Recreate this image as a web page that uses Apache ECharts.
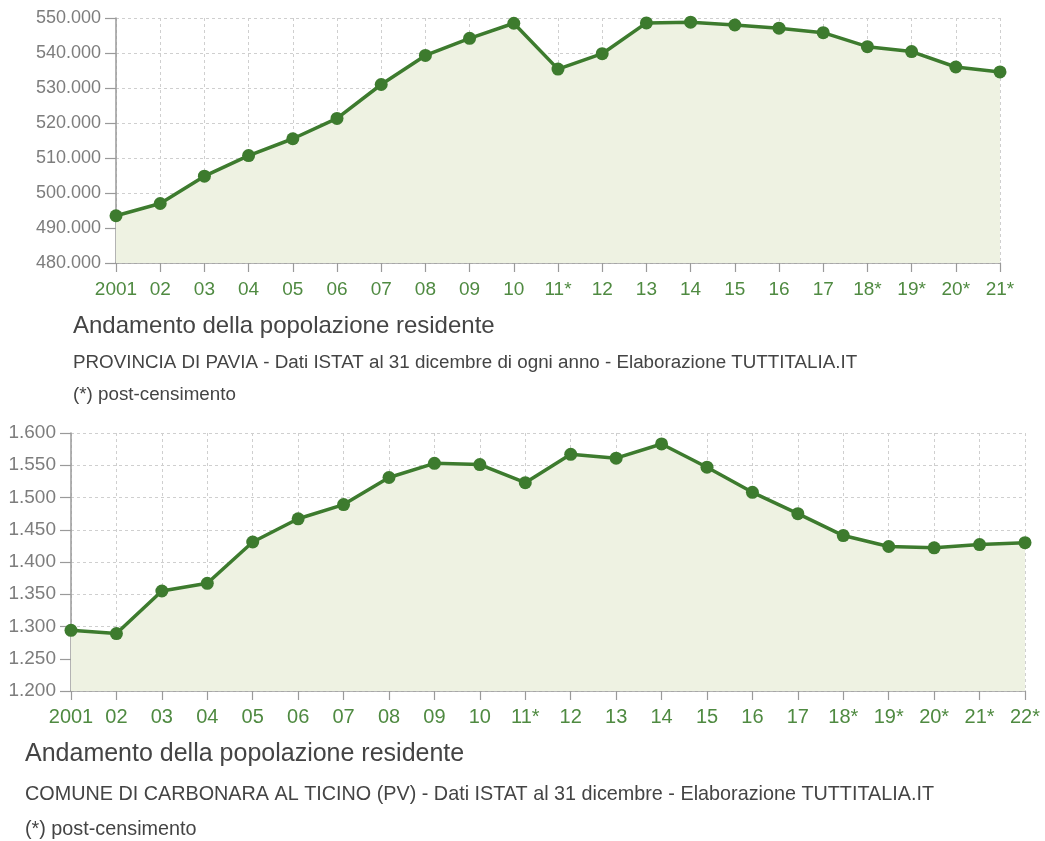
<!DOCTYPE html>
<html>
<head>
<meta charset="utf-8">
<script src="https://cdn.jsdelivr.net/npm/echarts@6/dist/echarts.min.js"></script>
<style>
  html, body { margin: 0; padding: 0; background: #ffffff; }
  #chart { width: 1045px; height: 841px; }
</style>
</head>
<body>
<div id="chart"></div>
<script>
// Resident population, Province of Pavia (31 December of each year)
const provYears = ['2001', '02', '03', '04', '05', '06', '07', '08', '09', '10',
  '11*', '12', '13', '14', '15', '16', '17', '18*', '19*', '20*', '21*'];
const provPop = [493500, 497000, 504800, 510700, 515500, 521300, 531000, 539300,
  544200, 548500, 535400, 539800, 548600, 548800, 548000, 547100, 545800,
  541800, 540400, 536000, 534600];

// Resident population, Comune di Carbonara al Ticino
const comYears = ['2001', '02', '03', '04', '05', '06', '07', '08', '09', '10',
  '11*', '12', '13', '14', '15', '16', '17', '18*', '19*', '20*', '21*', '22*'];
const comPop = [1294, 1289, 1355, 1367, 1431, 1467, 1489, 1531, 1553, 1551,
  1523, 1567, 1561, 1583, 1547, 1508, 1475, 1441, 1424, 1422, 1427, 1430];

const provTicks = { min: 480000, max: 550000, step: 10000 };
const comTicks = { min: 1200, max: 1600, step: 50 };

const titleMain = 'Andamento della popolazione residente';
const provSub = 'PROVINCIA DI PAVIA - Dati ISTAT al 31 dicembre di ogni anno - Elaborazione TUTTITALIA.IT';
const comSub = 'COMUNE DI CARBONARA AL TICINO (PV) - Dati ISTAT al 31 dicembre - Elaborazione TUTTITALIA.IT';
const note = '(*) post-censimento';

const FONT = '"Liberation Sans", Arial, Helvetica, sans-serif';
const LINE = '#3d7b2e';
const FILL = '#eef2e2';
const XLAB = '#4f8a41';
const YLAB = '#7d7d7d';
const AXIS = '#9a9a9a';
const GRID = '#cfcfcf';

const fmt = v => String(Math.round(v)).replace(/\B(?=(\d{3})+(?!\d))/g, '.');

function xAxis(gridIndex, data, size, margin) {
  return {
    type: 'category', gridIndex, data, boundaryGap: false,
    axisLine: { lineStyle: { color: AXIS, width: 1.5 } },
    axisTick: { show: true, interval: 0, length: 9, lineStyle: { color: AXIS, width: 1.2 } },
    axisLabel: { interval: 0, color: XLAB, fontFamily: FONT, fontSize: size, margin },
    splitLine: { show: true, interval: 0, lineStyle: { color: GRID, type: [3, 3], width: 1 } }
  };
}

function yAxis(gridIndex, t, size) {
  return {
    type: 'value', gridIndex, min: t.min, max: t.max, interval: t.step,
    axisLine: { show: true, lineStyle: { color: AXIS, width: 1.5 } },
    axisTick: { show: true, length: 11, lineStyle: { color: AXIS, width: 1.2 } },
    axisLabel: { color: YLAB, fontFamily: FONT, fontSize: size, margin: 15, formatter: fmt },
    splitLine: { show: true, lineStyle: { color: GRID, type: [3, 3], width: 1 } }
  };
}

function series(idx, data) {
  return {
    type: 'line', xAxisIndex: idx, yAxisIndex: idx, data,
    symbol: 'circle', symbolSize: 13,
    lineStyle: { color: LINE, width: 3.5 },
    itemStyle: { color: LINE },
    areaStyle: { color: FILL, opacity: 1, origin: 'start' },
    animation: false
  };
}

function text(left, top, str, size, color) {
  return {
    type: 'text', left, top,
    style: { text: str, fontFamily: FONT, fontSize: size, fill: color }
  };
}

const chart = echarts.init(document.getElementById('chart'), null, { renderer: 'canvas' });
chart.setOption({
  backgroundColor: '#ffffff',
  animation: false,
  grid: [
    { left: 116, right: 45, top: 18, height: 245 },
    { left: 71, right: 20, top: 433, height: 258 }
  ],
  xAxis: [xAxis(0, provYears, 19, 17), xAxis(1, comYears, 20, 16)],
  yAxis: [yAxis(0, provTicks, 18), yAxis(1, comTicks, 19)],
  series: [series(0, provPop), series(1, comPop)],
  graphic: [
    text(73, 314, titleMain, 24, '#444444'),
    text(73, 353, provSub, 18.8, '#444444'),
    text(73, 385, note, 18.8, '#444444'),
    text(25, 742, titleMain, 25, '#444444'),
    text(25, 785, comSub, 19.8, '#444444'),
    text(25, 820, note, 19.8, '#444444')
  ]
});
</script>
</body>
</html>
